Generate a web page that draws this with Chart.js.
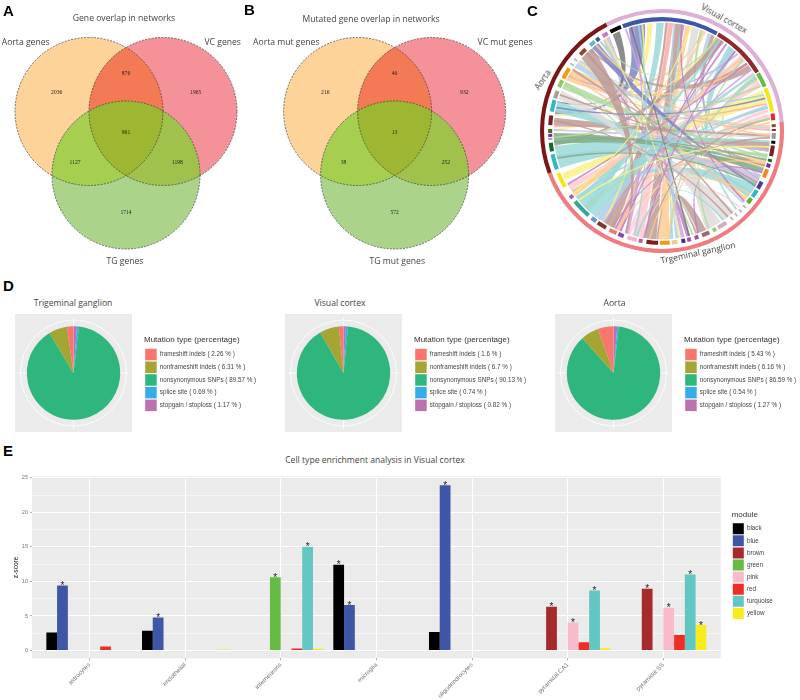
<!DOCTYPE html>
<html><head><meta charset="utf-8">
<script src="https://cdn.jsdelivr.net/npm/chart.js@4/dist/chart.umd.min.js"></script>
<style>
html,body{margin:0;padding:0;background:#fff;width:800px;height:700px;overflow:hidden}
#stage{position:relative;width:800px;height:700px}
canvas{position:absolute;display:block}
.t{position:absolute;white-space:nowrap;transform:translate(-50%,-50%);font-family:"Open Sans",sans-serif;color:#444;font-size:8.6px;line-height:1}
.p{position:absolute;font-family:"Liberation Sans",sans-serif;font-weight:bold;font-size:15px;color:#000;line-height:1}
</style></head><body><div id="stage"></div>
<script>
/* ---------- DATA ---------- */
const vennSetsA=['Aorta genes','VC genes','TG genes'];
const vennCountsA=['2036','876','1965','961','1127','1198','1714'];
const vennSetsB=['Aorta mut genes','VC mut genes','TG mut genes'];
const vennCountsB=['216','46','932','13','38','252','572'];

const mutationTypes=['frameshift indels','nonframeshift indels','nonsynonymous SNPs','splice site','stopgain / stoploss'];
const tgPct=[2.26,6.31,89.57,0.69,1.17];
const vcPct=[1.6,6.7,90.13,0.74,0.82];
const aoPct=[5.43,6.16,86.59,0.54,1.27];

const cellTypes=['astrocytes','endothelial','interneurons','microglia','oligodendrocytes','pyramidal CA1','pyramidal SS'];
const modules=['black','blue','brown','green','pink','red','turquoise','yellow'];
const blackZ=[2.6,2.85,null,12.4,2.7,null,null];
const blueZ=[9.4,4.8,null,6.6,23.9,null,null];
const brownZ=[null,null,null,null,null,6.35,8.95];
const greenZ=[null,null,10.6,null,null,null,null];
const pinkZ=[null,null,null,null,null,4.05,6.2];
const redZ=[0.6,null,0.3,null,null,1.2,2.25];
const turquoiseZ=[null,null,15,null,null,8.7,11];
const yellowZ=[null,0.15,0.25,null,null,0.35,3.7];
const blackSig=[0,0,0,1,0,0,0];
const blueSig=[1,1,0,1,1,0,0];
const brownSig=[0,0,0,0,0,1,1];
const greenSig=[0,0,1,0,0,0,0];
const pinkSig=[0,0,0,0,0,1,1];
const redSig=[0,0,0,0,0,0,0];
const turquoiseSig=[0,0,1,0,0,1,1];
const yellowSig=[0,0,0,0,0,0,1];
const zTicks=[0,2.5,5,7.5,10,12.5,15,17.5,20,22.5,25];

const tissues=['Visual cortex','Trgeminal ganglion','Aorta'];
const tissueSpan=[113,164,83];
const moduleArcs=[ /* start, end (deg clockwise from north), colour */
[332.5,338.5,'#000'],[339.5,389.3,'#3D57A6'],[390,418.4,'#8E2A2E'],[419,426.6,'#66BB44'],[427.5,440,'#F5E61C'],[441,444.5,'#E5282A'],
[446.5,448,'#8B4A2A'],[449,450,'#8E2A2E'],[451,454,'#9A9A9A'],[455,456.5,'#000'],[457.5,463,'#7B1E22'],[464.5,466,'#0D6B2C'],[467,469,'#7A2A92'],[470,474.5,'#F08A1C'],[477,481,'#4B3E9A'],[482,486,'#2FB8C8'],[487,490,'#55B035'],
[492,493,'#BBB'],[495,496,'#BBB'],[498,499,'#BBB'],[501,502,'#BBB'],[505,510,'#C9B2C2'],[511,513,'#8FD07A'],[515,519,'#A0686E'],[521,523,'#A34BA8'],[525,527,'#A34BA8'],[528,530,'#3B2A90'],[532,535,'#E8CF9A'],[536,541,'#F29A14'],[542,548,'#7B1E22'],[550,552,'#C85A98'],[553,558,'#F2B6C6'],[560,563,'#8A45B0'],[564,568,'#EE7B6E'],[570,575,'#7B3A2A'],[576,579,'#5C9BD8'],[581,591,'#38A69E'],[593,595,'#A65AB5'],
[600,608,'#F5E61C'],
[610,618,'#2FB8C8'],[619.5,624,'#0D6B2C'],[625.5,626.5,'#999'],[627,628.5,'#7A2A92'],[629,631,'#55661E'],[633,638,'#7B1E22'],[640,646,'#2FB8C8'],[647,651,'#A8A090'],[653,657,'#8FCB6A'],[658,664,'#F29A14'],[666,667,'#BBB'],[669,670,'#BBB'],[673,677,'#8B4A2A'],[680,683,'#5CB8E0'],[684,686,'#3D57A6'],[688,691,'#C77CC0']
];
const ribbonInk={blu:'#7C86C6',yel:'#FBF08A',tur:'#9BD9DB',pnk:'#FFCBD2',sal:'#F7AFA8',ros:'#BE9B95',org:'#FDCD92',gry:'#E2DCDC',grn:'#B2DCA0',lbl:'#B3D2EA',vio:'#CBA6DC',dgy:'#A9A9A9',dgn:'#7FAE88',lil:'#C9C0E4',mag:'#C07FC7',blk:'#777777'};
const ribbons=[ /* end A from,to ; end B from,to ; colour */
[300,305,22,23,'org'],[327,331,210,211,'lil'],[333,337,285,286,'blk'],[342,351,279,281,'blu'],[352,355,270,271,'yel'],[357,361,222,226,'tur'],[1.5,3.5,190,196,'pnk'],[3.5,6,202,205,'sal'],[7,12,183,189,'ros'],[12.5,15,176,182,'org'],[16,20,150,156,'gry'],[20.5,22,127,128,'grn'],[23,24,234,235,'org'],[25,27,114,115,'lbl'],[27,29,116,117,'ros'],
[30,35,262,263,'ros'],[36,37,205,206,'mag'],[38,43,136,137,'tur'],[44,45,300,301,'vio'],[46,50,235,236,'pnk'],[51,56,318,319,'ros'],[57,58,198,199,'pnk'],[59,62,103,104,'grn'],[63,66,208,209,'pnk'],[68,75,243,247,'yel'],[76,78,215,216,'lbl'],[78,80,192,193,'pnk'],[81,84,197,198,'pnk'],
[87,88,309,310,'org'],[89,90,300,301,'sal'],[91,94,268,269,'gry'],[96,101,264,265,'ros'],[102,104,236,237,'grn'],[105,110,217,218,'org'],[110,113,263,264,'dgn'],[114,119,256,257,'lil'],[120,127,231,232,'tur'],[128,130,301,302,'org'],[131,132,325,326,'lbl'],[134,135,190,191,'pnk'],[138,146,283,284,'gry'],[147,150,296,297,'gry'],[156,162,182,183,'ros'],[163,164,295,296,'grn'],[165,167,316,317,'mag'],[168,170,340,341,'vio'],[171,173,6,7,'lbl'],[174,175,10,11,'tur'],
[198,200,344,345,'vio'],[206,212,2,3,'ros'],[213,218,40,41,'lbl'],[218,226,58,59,'tur'],[226,232,32,33,'tur'],[233,236,47,48,'org'],[237,240,62,63,'pnk'],
[250,262,95,96,'tur'],[263.5,269,108,109,'dgn'],[270,271,100,101,'lil'],[272,273,75,76,'sal'],[273,277,92,93,'ros'],[278,279,30,31,'yel'],[280,286,124,125,'tur'],[287,292,160,161,'gry'],[293,297,104,105,'grn'],[298,300,52,53,'org'],[306,309,88,89,'lbl'],[310,311,70,71,'tur'],[312,320,199,200,'ros'],[320,324,120,121,'blu'],[325,326,30,31,'grn'],[328,329,170,171,'yel'],
[343,344,165,166,'blk'],[349,350,212,213,'yel'],[10,11,130,131,'mag'],[60,61,175,176,'tur'],[72,73,282,283,'blu'],[85,86,176,177,'org'],[112,113,160,161,'mag'],[154,155,48,49,'grn'],[186,187,83,84,'ros'],[207,208,93,94,'ros'],[224,225,83,84,'grn'],[240,241,51,52,'mag'],[255,256,119,120,'dgn'],[266,267,105,106,'dgn'],[275,276,142,143,'ros'],[289,290,108,109,'ros'],[304,305,118,119,'ros'],[315,316,139,140,'ros'],[322,323,92,93,'org'],[347,348,194,195,'tur'],[15,16,234,235,'yel'],[33,34,202,203,'mag'],[42,43,189,190,'mag'],[55,56,212,213,'vio'],[65,66,266,267,'grn'],[77,78,232,233,'tur'],[98,99,230,231,'yel'],[107,108,186,187,'org'],[125,126,204,205,'org'],[145,146,193,194,'tur']
];

/* ---------- LAYOUT ---------- */
const stage=document.getElementById('stage');
Chart.defaults.animation=false;
Chart.defaults.responsive=false;
Chart.defaults.plugins.tooltip.enabled=false;
function mk(l,t,w,h){const c=document.createElement('canvas');c.width=w;c.height=h;c.style.left=l+'px';c.style.top=t+'px';c.style.width=w+'px';c.style.height=h+'px';stage.appendChild(c);return c;}
function label(txt,x,y,css){const d=document.createElement('div');d.className='t';d.textContent=txt;d.style.left=x+'px';d.style.top=y+'px';if(css)Object.assign(d.style,css);stage.appendChild(d);}
function panel(txt,x,y){const d=document.createElement('div');d.className='p';d.textContent=txt;d.style.left=x+'px';d.style.top=y+'px';stage.appendChild(d);}

/* ---------- VENN ---------- */
const vennCentres=[[89,111.5],[163,111.5],[126,175]];
const vennTextSpots=[[56.7,92.7],[126,74],[195.7,92.7],[126,132.7],[75,162.7],[177.3,162.7],[126,212.7]];
const vennFill=['#FED399','#F59198','#ABD48A'];
const lensFill=[[[0,1],'#F37A54'],[[0,2],'#A6CF50'],[[1,2],'#A0C14B'],[[0,1,2],'#9EB732']];
const vennPlugin={id:'venn',
 beforeDatasetDraw(chart,args){ if(args.index===0){chart.ctx.save();chart.ctx.setLineDash([2,1.3]);} },
 afterDatasetDraw(chart,args){
  const ctx=chart.ctx;
  if(args.index===0){ctx.restore();return;}
  if(args.index!==1) return;
  const el=[3,2,1].map(i=>chart.getDatasetMeta(i).data[0]);
  lensFill.forEach(([ids,col])=>{ctx.save();ids.forEach(k=>{ctx.beginPath();ctx.arc(el[k].x,el[k].y,el[k].options.radius,0,Math.PI*2);ctx.clip();});ctx.fillStyle=col;ctx.fillRect(0,0,chart.width,chart.height);ctx.restore();});
 },
 afterDraw(chart,args,o){
  const ctx=chart.ctx,xs=chart.scales.x,ys=chart.scales.y;
  ctx.save();ctx.font='5.6px "Liberation Serif"';ctx.fillStyle='#222';ctx.textAlign='center';ctx.textBaseline='middle';
  o.counts.forEach((t,i)=>ctx.fillText(t,xs.getPixelForValue(vennTextSpots[i][0]+o.dx),ys.getPixelForValue(vennTextSpots[i][1])));
  ctx.restore();
 }};
function venn(left,counts,dx,w){
 const ds=(i,fill)=>({data:[{x:vennCentres[i][0]+dx,y:vennCentres[i][1],r:74}],backgroundColor:fill,borderColor:'transparent',borderWidth:0});
 new Chart(mk(left,0,w,270),{type:'bubble',
  data:{datasets:[
   {data:vennCentres.map(c=>({x:c[0]+dx,y:c[1],r:74})),backgroundColor:'transparent',borderColor:'#3a3a3a',borderWidth:0.7},
   ds(2,vennFill[2]),ds(1,vennFill[1]),ds(0,vennFill[0])]},
  options:{layout:{padding:0,autoPadding:false},plugins:{legend:{display:false},venn:{counts,dx}},
   scales:{x:{display:false,min:left,max:left+w},y:{display:false,min:0,max:270,reverse:true}}},
  plugins:[vennPlugin]});
}
venn(0,vennCountsA,0,262);
venn(262,vennCountsB,268.6,262);

/* ---------- CHORD ---------- */
function arcValues(){const v=[],c=[];let p=332.5;moduleArcs.forEach(a=>{if(a[0]>p){v.push(a[0]-p);c.push('transparent');}v.push(a[1]-a[0]);c.push(a[2]);p=a[1];});if(p<692.5){v.push(692.5-p);c.push('transparent');}return [v,c];}
const [ringV,ringC]=arcValues();
const chordPlugin={id:'chord',afterDatasetsDraw(chart){
  const ctx=chart.ctx,a0=chart.getDatasetMeta(0).data[0],cx=a0.x,cy=a0.y,R=a0.outerRadius*0.888;
  const rad=d=>(d-90)*Math.PI/180;
  const ctrl=(p,q)=>{const dx=Math.cos(rad(p))+Math.cos(rad(q)),dy=Math.sin(rad(p))+Math.sin(rad(q));return [cx+0.11*R*dx,cy+0.11*R*dy];};
  ctx.save();ctx.globalAlpha=0.85;
  ribbons.forEach(([a,b,c,d,k])=>{
    ctx.beginPath();
    ctx.arc(cx,cy,R,rad(a),rad(b));
    let m=ctrl(b,c);ctx.quadraticCurveTo(m[0],m[1],cx+R*Math.cos(rad(c)),cy+R*Math.sin(rad(c)));
    ctx.arc(cx,cy,R,rad(c),rad(d));
    m=ctrl(d,a);ctx.quadraticCurveTo(m[0],m[1],cx+R*Math.cos(rad(a)),cy+R*Math.sin(rad(a)));
    ctx.closePath();ctx.fillStyle=ribbonInk[k];ctx.fill();
  });
  ctx.restore();
}};
new Chart(mk(540,9,244,244),{type:'doughnut',
 data:{labels:tissues,datasets:[
  {data:tissueSpan,backgroundColor:['#DDB1D6','#EE7C80','#7B1518'],borderWidth:0,spacing:0},
  {data:[1],backgroundColor:['transparent'],borderWidth:0},
  {data:ringV,backgroundColor:ringC,borderWidth:0}]},
 options:{rotation:-27.5,cutout:'90%',layout:{padding:0},plugins:{legend:{display:false}}},
 plugins:[chordPlugin]});

/* ---------- LEGEND BOX HELPER ---------- */
const legendBox={id:'legendBox',
 beforeLayout(chart,args,o){const l=chart.legend;if(l&&!l._wrapped){const f=l.fit;l.fit=function(){f.call(this);this.width=o.width;};l._wrapped=true;}},
 afterLayout(chart,args,o){const l=chart.legend;if(l){l.left+=o.dx;l.right+=o.dx;l.top+=o.dy;l.bottom+=o.dy;}}};
const panelBg={id:'panelBg',beforeDraw(chart){const a=chart.chartArea,c=chart.ctx;c.save();c.fillStyle='#EBEBEB';c.fillRect(a.left,a.top,a.right-a.left,a.bottom-a.top);c.restore();}};

/* ---------- PIES ---------- */
const pieGrid={id:'pieGrid',beforeDatasetsDraw(chart){
  const el=chart.getDatasetMeta(0).data[0],c=chart.ctx,r=el.outerRadius*1.135;
  c.save();c.strokeStyle='#fff';c.lineWidth=0.8;c.beginPath();c.arc(el.x,el.y,r,0,Math.PI*2);
  [[0,-1],[1,0],[0,1],[-1,0]].forEach(([x,y])=>{c.moveTo(el.x,el.y);c.lineTo(el.x+x*(r+2.5),el.y+y*(r+2.5));});c.stroke();c.restore();}};
function pie(left,vals){
 const labels=mutationTypes.map((m,i)=>m+' ( '+vals[i]+' % )').reverse();
 new Chart(mk(left,314,245,118),{type:'pie',
  data:{labels,datasets:[{data:vals.slice().reverse(),backgroundColor:['#BC72B0','#35ADE6','#2EB67D','#A5A534','#F8766D'],borderWidth:0,radius:46.7}]},
  options:{layout:{padding:0},
   plugins:{legendBox:{width:128,dx:12,dy:22},
    legend:{position:'right',reverse:true,align:'start',
     title:{display:true,position:'start',text:'Mutation type (percentage)',color:'#333',font:{family:'"Liberation Sans"',size:8},padding:{top:0,bottom:2}},
     labels:{boxWidth:11.5,boxHeight:11.5,padding:1.2,color:'#444',font:{family:'"Liberation Sans"',size:6.3}}}}},
  plugins:[panelBg,pieGrid,legendBox]});
}
pie(15,tgPct);pie(284.7,vcPct);pie(555,aoPct);

/* ---------- BARS ---------- */
const series=[blackZ,blueZ,brownZ,greenZ,pinkZ,redZ,turquoiseZ,yellowZ];
const sigs=[blackSig,blueSig,brownSig,greenSig,pinkSig,redSig,turquoiseSig,yellowSig];
const moduleColors=['#000000','#3D57A6','#A52A2A','#66BB44','#F9BBCB','#EE2E24','#63C6C3','#F9EC1C'];
const stars={id:'stars',afterDatasetsDraw(chart){
  const c=chart.ctx;c.save();c.font='10px "Liberation Sans"';c.fillStyle='#222';c.textAlign='center';c.textBaseline='alphabetic';
  sigs.forEach((s,d)=>{chart.getDatasetMeta(d).data.forEach((b,i)=>{if(s[i])c.fillText('*',b.x,b.y+3.6);});});c.restore();}};
new Chart(mk(0,471,800,229),{type:'bar',
 data:{datasets:modules.map((m,d)=>({label:m,data:series[d].map((v,i)=>({x:i,y:v})),backgroundColor:moduleColors[d],borderWidth:0,categoryPercentage:0.9,barPercentage:1}))},
 options:{layout:{padding:0},
  plugins:{legendBox:{width:79.3,dx:11,dy:40},
   legend:{position:'right',align:'start',
    title:{display:true,position:'start',text:'module',color:'#333',font:{family:'"Liberation Sans"',size:8},padding:{top:0,bottom:1.5}},
    labels:{boxWidth:11,boxHeight:11,padding:1.1,color:'#444',font:{family:'"Liberation Sans"',size:6.3}}}},
  scales:{
   x:{type:'linear',offset:false,min:-0.6,max:6.6,
      afterBuildTicks:s=>{s.ticks=cellTypes.map((c,i)=>({value:i}));},
      afterFit:s=>{s.height=41.7;},
      ticks:{autoSkip:false,minRotation:45,maxRotation:45,padding:1,color:'#777',font:{family:'"Liberation Sans"',size:6.2},callback:v=>cellTypes[v]},
      grid:{offset:false,color:'#fff',lineWidth:1,tickColor:'#7f7f7f',tickLength:2,tickWidth:0.6},border:{display:false}},
   y:{min:-1.12,max:25.2,
      afterBuildTicks:s=>{s.ticks=zTicks.map(v=>({value:v}));},
      afterFit:s=>{s.width=32;},
      title:{display:true,text:'z-score',color:'#111',font:{family:'"Liberation Sans"',size:6.6},padding:{top:12,bottom:0}},
      ticks:{padding:2,color:'#777',font:{family:'"Liberation Sans"',size:5.6},callback:v=>v%5===0?String(v):''},
      grid:{color:'#fff',lineWidth:c=>c.tick&&c.tick.value%5===0?1:0.5,tickLength:2,tickColor:c=>c.tick&&c.tick.value%5===0?'#7f7f7f':'transparent',tickWidth:0.6},border:{display:false}}}},
 plugins:[panelBg,legendBox,stars]});

/* ---------- TEXT ---------- */
panel('A',3,3);panel('B',244,2);panel('C',527,3);panel('D',3,278);panel('E',3,442.5);
label('Gene overlap in networks',124,17.7);
label(vennSetsA[0],25.7,42.3);label(vennSetsA[1],222.7,42.3);label(vennSetsA[2],125,260.7);
label('Mutated gene overlap in networks',371,19);
label(vennSetsB[0],286.3,42.3);label(vennSetsB[1],505,42.3);label(vennSetsB[2],397.3,260.7);
label(tissues[0],724,18.5,{transform:'translate(-50%,-50%) rotate(29deg)'});
label(tissues[2],543,80,{transform:'translate(-50%,-50%) rotate(-56deg)'});
label(tissues[1],698,253,{transform:'translate(-50%,-50%) rotate(-12deg)'});
label('Trigeminal ganglion',73,303);label('Visual cortex',340,303);label('Aorta',614.5,303);
label('Cell type enrichment analysis in Visual cortex',375,460);
</script></body></html>
